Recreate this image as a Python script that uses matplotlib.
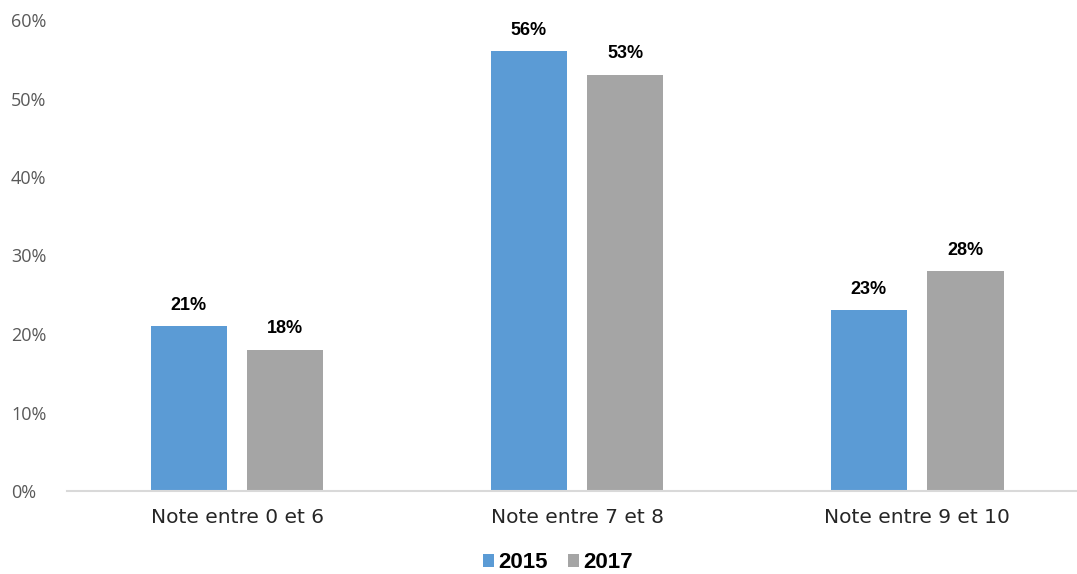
import matplotlib
matplotlib.use('Agg')
import matplotlib.pyplot as plt
import numpy as np

categories = ['Note entre 0 et 6', 'Note entre 7 et 8', 'Note entre 9 et 10']
years = ['2015', '2017']
vals_2015 = [21, 56, 23]
vals_2017 = [18, 53, 28]

col_2015 = '#5b9bd5'
col_2017 = '#a5a5a5'

fig = plt.figure(figsize=(10.77, 5.74), dpi=100)
ax = fig.add_axes([67 / 1077, 83 / 574, 1 - 67 / 1077, 471 / 574])

x = np.arange(len(categories))
w = 0.224
off = 0.142
b1 = ax.bar(x - off, vals_2015, w, color=col_2015, label=years[0])
b2 = ax.bar(x + off, vals_2017, w, color=col_2017, label=years[1])

for bars in (b1, b2):
    for b in bars:
        ax.text(b.get_x() + b.get_width() / 2, b.get_height() + 1.6, '%d%%' % b.get_height(),
                ha='center', va='bottom', fontsize=13, fontweight='bold',
                family='Liberation Sans', color='black')

ax.set_xlim(-0.5, 2.47)
ax.set_ylim(0, 60)
ax.set_yticks(range(0, 61, 10))
ax.set_yticklabels(['%d%%' % v for v in range(0, 61, 10)], family='Open Sans', fontsize=13, color='#595959')
ax.set_xticks(x)
ax.set_xticklabels(categories, family='DejaVu Sans', fontsize=14.5, color='#262626')
for s in ('top', 'right', 'left'):
    ax.spines[s].set_visible(False)
ax.spines['bottom'].set_color('#d9d9d9')
ax.spines['bottom'].set_linewidth(1.5)
ax.tick_params(axis='both', length=0)
ax.tick_params(axis='x', pad=12)
for t in ax.get_yticklabels():
    t.set_horizontalalignment('left')
    t.set_transform(matplotlib.transforms.blended_transform_factory(fig.transFigure, ax.transData))
    t.set_x(11 / 1077)

leg = fig.legend(loc='center', bbox_to_anchor=(558 / 1077, 1 - 563 / 574), ncol=2, frameon=False,
                 prop={'family': 'Liberation Sans', 'weight': 'bold', 'size': 16},
                 handlelength=0.5, handleheight=0.5, handletextpad=0.2, columnspacing=0.9)

fig.savefig('out.png', dpi=100)
